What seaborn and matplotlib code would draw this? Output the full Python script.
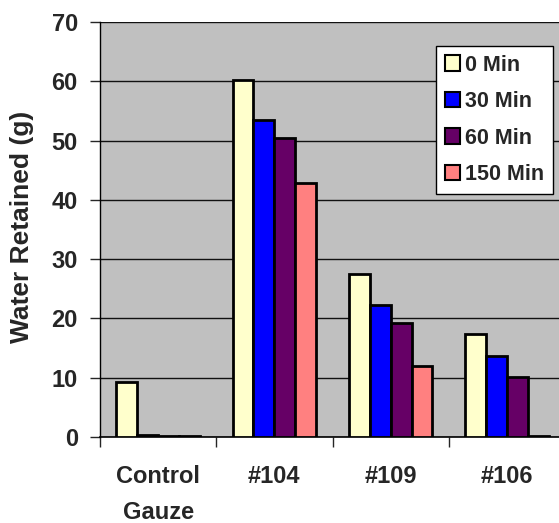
import pandas as pd
import matplotlib
matplotlib.use("Agg")
import matplotlib.pyplot as plt
import seaborn as sns

# Donnees
categories = ["Control\nGauze", "#104", "#109", "#106"]
temps = ["0 Min", "30 Min", "60 Min", "150 Min"]
min_0 = [9.3, 60.3, 27.5, 17.3]
min_30 = [0.3, 53.5, 22.3, 13.6]
min_60 = [0.2, 50.5, 19.2, 10.1]
min_150 = [0.1, 42.9, 12.0, 0.2]
couleurs = ["#FFFFCC", "#0000FF", "#660066", "#FF8080"]

rows = []
for t, vals in zip(temps, [min_0, min_30, min_60, min_150]):
    for c, v in zip(categories, vals):
        rows.append({"cat": c, "temps": t, "eau": v})
df = pd.DataFrame(rows)

sns.set_style("white")
plt.rcParams["font.family"] = ["Liberation Sans", "DejaVu Sans"]
plt.rcParams["font.weight"] = "bold"

fig = plt.figure(figsize=(5.59, 5.23), dpi=100)
ax = fig.add_axes([100 / 559, 86 / 523, 465 / 559, 415 / 523])
ax.set_facecolor("#C0C0C0")

sns.barplot(data=df, x="cat", y="eau", hue="temps", order=categories,
            hue_order=temps, palette=couleurs, saturation=1, width=0.72, gap=0,
            edgecolor="black", linewidth=2, ax=ax, zorder=3)

ax.set_ylim(0, 70)
ax.set_xlim(-0.5, 3.5)
ax.set_yticks(range(0, 71, 10))
ax.grid(axis="y", color="#111111", lw=1, zorder=0)
ax.set_axisbelow(True)

for s in ["top", "right"]:
    ax.spines[s].set_visible(False)
ax.spines["left"].set_color("#000000")
ax.spines["bottom"].set_color("#000000")
ax.spines["left"].set_linewidth(1)
ax.spines["bottom"].set_linewidth(1.2)

ax.tick_params(axis="y", direction="out", length=7, width=1, labelsize=17, pad=9, left=True)
ax.set_xticks([-0.5, 0.5, 1.5, 2.5], minor=True)
ax.tick_params(axis="x", which="minor", direction="out", length=7, width=1, bottom=True)
ax.tick_params(axis="x", which="major", length=0, labelsize=17, pad=20)
for lab in ax.get_yticklabels() + ax.get_xticklabels():
    lab.set_fontweight("bold")
for lab in ax.get_xticklabels():
    lab.set_linespacing(1.75)

ax.set_xlabel("")
ax.set_ylabel("")
fig.text(22 / 559, 1 - 227 / 523, "Water Retained (g)", rotation=90,
         ha="center", va="center", fontsize=19, fontweight="bold")

leg = ax.legend(title=None, loc="upper left", bbox_to_anchor=(436 / 559, 1 - 46 / 523),
                bbox_transform=fig.transFigure, frameon=True, fancybox=False,
                framealpha=1, prop={"size": 15.5, "weight": "bold"}, handlelength=0.72,
                handleheight=0.72, handletextpad=0.25, labelspacing=0.72,
                borderpad=0.4, borderaxespad=0)
leg.get_frame().set_edgecolor("black")
leg.get_frame().set_linewidth(1)
leg.get_frame().set_facecolor("white")
for h in leg.legend_handles:
    h.set_linewidth(1.5)

fig.savefig("out.png", dpi=100)
